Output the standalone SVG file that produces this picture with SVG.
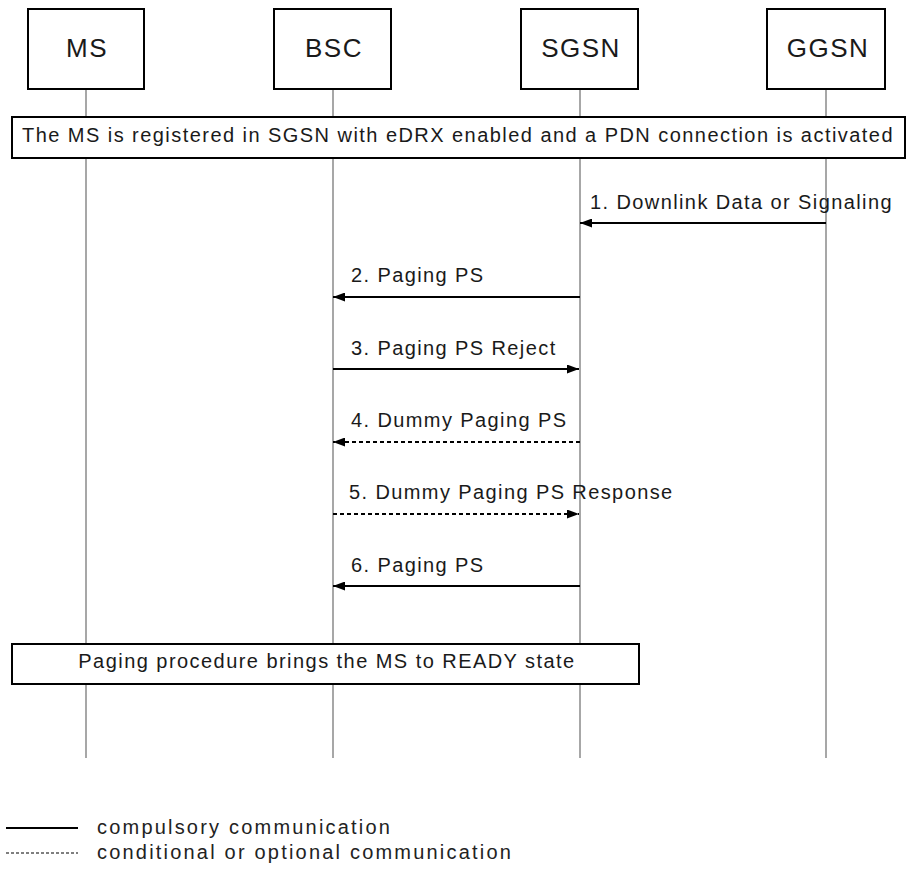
<svg xmlns="http://www.w3.org/2000/svg" width="907" height="882" viewBox="0 0 907 882">
  <style>
    .box { fill: #fff; stroke: #000; stroke-width: 2; }
    .life { stroke: #8a8a8a; stroke-width: 1.5; }
    .ent { font-family: "Liberation Sans", Arial, sans-serif; font-size: 26px; letter-spacing: 1.5px; text-anchor: middle; fill: #1a1a1a; }
    .lbl { font-family: "Liberation Sans", Arial, sans-serif; font-size: 20px; letter-spacing: 1.4px; fill: #1a1a1a; }
    .note { font-family: "Liberation Sans", Arial, sans-serif; font-size: 20px; letter-spacing: 1.45px; text-anchor: middle; fill: #1a1a1a; }
    .leg { font-family: "Liberation Sans", Arial, sans-serif; font-size: 20px; letter-spacing: 2.2px; fill: #222; }
    .msg { stroke: #000; stroke-width: 2; fill: none; }
    .opt { stroke-dasharray: 4 3; }
  </style>
  <defs>
    <marker id="arrow" viewBox="0 0 12 9" refX="12" refY="4.5" markerWidth="12" markerHeight="9" markerUnits="userSpaceOnUse" orient="auto">
      <path d="M0,0 L12,4.5 L0,9 Z" fill="#000"/>
    </marker>
  </defs>

  <!-- lifelines -->
  <g id="lifelines">
    <line class="life" x1="86" y1="89" x2="86" y2="758"/>
    <line class="life" x1="333" y1="89" x2="333" y2="758"/>
    <line class="life" x1="580" y1="89" x2="580" y2="758"/>
    <line class="life" x1="826" y1="89" x2="826" y2="758"/>
  </g>

  <!-- entities -->
  <g id="ms">
    <rect class="box" x="28" y="9" width="116" height="80"/>
    <text class="ent" x="87" y="57">MS</text>
  </g>
  <g id="bsc">
    <rect class="box" x="274" y="9" width="117" height="80"/>
    <text class="ent" x="334" y="57">BSC</text>
  </g>
  <g id="sgsn">
    <rect class="box" x="521" y="9" width="117" height="80"/>
    <text class="ent" x="581" y="57">SGSN</text>
  </g>
  <g id="ggsn">
    <rect class="box" x="767" y="9" width="118" height="80"/>
    <text class="ent" x="828" y="57">GGSN</text>
  </g>

  <!-- state notes -->
  <g id="note-registered">
    <rect class="box" x="12" y="117" width="893" height="41"/>
    <text class="note" x="458" y="142">The MS is registered in SGSN with eDRX enabled and a PDN connection is activated</text>
  </g>
  <g id="note-ready">
    <rect class="box" x="12" y="644" width="627" height="40"/>
    <text class="note" x="327" y="668">Paging procedure brings the MS to READY state</text>
  </g>

  <!-- messages -->
  <g id="connectors">
    <line class="msg" x1="826" y1="223" x2="580" y2="223" marker-end="url(#arrow)"/>
    <line class="msg" x1="580" y1="297" x2="333" y2="297" marker-end="url(#arrow)"/>
    <line class="msg" x1="333" y1="369" x2="579" y2="369" marker-end="url(#arrow)"/>
    <line class="msg opt" x1="580" y1="442" x2="333" y2="442" marker-end="url(#arrow)"/>
    <line class="msg opt" x1="333" y1="514" x2="579" y2="514" marker-end="url(#arrow)"/>
    <line class="msg" x1="580" y1="586" x2="333" y2="586" marker-end="url(#arrow)"/>
  </g>
  <g id="message-labels">
    <text class="lbl" x="590" y="209">1. Downlink Data or Signaling</text>
    <text class="lbl" x="351" y="282">2. Paging PS</text>
    <text class="lbl" x="351" y="355">3. Paging PS Reject</text>
    <text class="lbl" x="351" y="427">4. Dummy Paging PS</text>
    <text class="lbl" x="349" y="499">5. Dummy Paging PS Response</text>
    <text class="lbl" x="351" y="572">6. Paging PS</text>
  </g>

  <!-- legend -->
  <g id="legend">
    <line class="msg" x1="6" y1="828" x2="78" y2="828"/>
    <text class="leg" x="97" y="834">compulsory communication</text>
    <line class="msg opt" x1="6" y1="853" x2="78" y2="853" style="stroke-width:1.2;stroke-dasharray:3 2"/>
    <text class="leg" x="97" y="859">conditional or optional communication</text>
  </g>
</svg>
